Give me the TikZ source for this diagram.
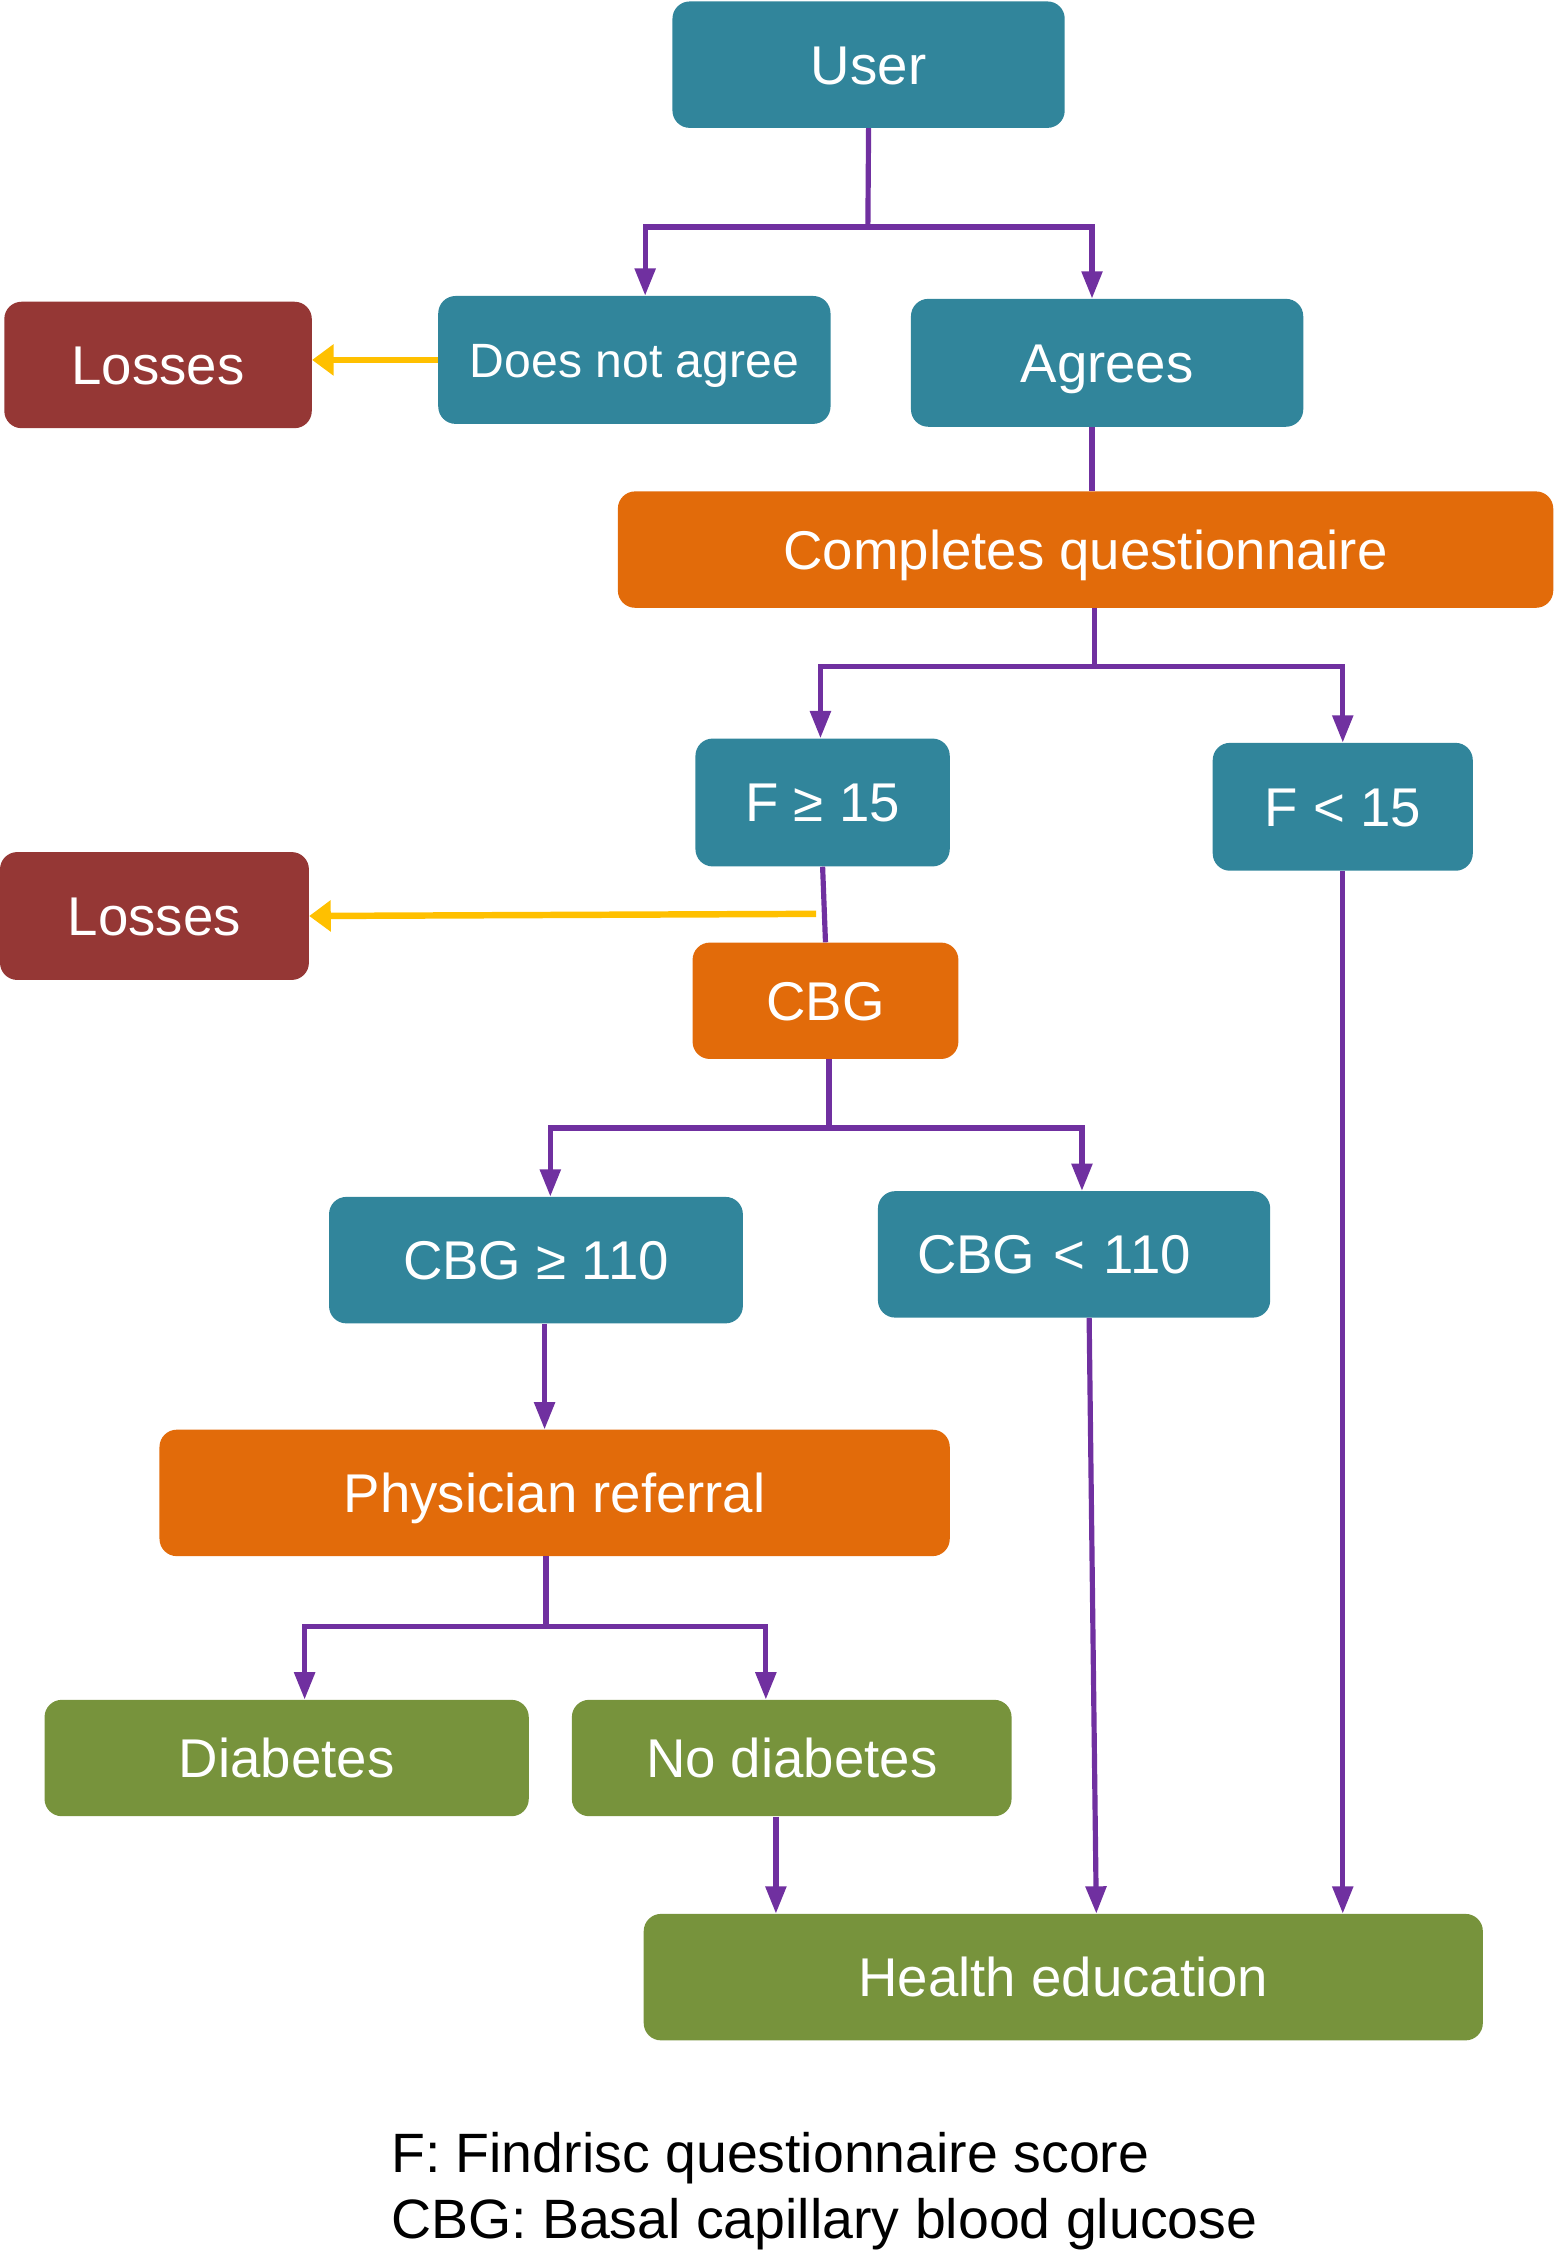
\documentclass[tikz,border=0pt]{standalone}
\usepackage{fontspec}
\setmainfont{Liberation Sans}
\usetikzlibrary{arrows.meta,calc}
\definecolor{teal}{RGB}{49,133,155}
\definecolor{orng}{RGB}{226,107,10}
\definecolor{brick}{RGB}{149,55,53}
\definecolor{olive}{RGB}{119,147,60}
\definecolor{purp}{RGB}{112,48,160}
\definecolor{yell}{RGB}{255,192,0}
\tikzset{
  box/.style={rounded corners=12pt, inner sep=0pt, text=white, font=\fontsize{38}{44}\selectfont, align=center, text height=27pt, text depth=0pt},
  tbox/.style={box, fill=teal},
  obox/.style={box, fill=orng},
  rbox/.style={box, fill=brick},
  gbox/.style={box, fill=olive},
  pline/.style={draw=purp, line width=3.6pt},
  parr/.style={pline, -{Triangle[length=19pt,width=14pt]}},
  yarr/.style={draw=yell, line width=4.5pt, -{Triangle[length=15pt,width=21pt]}},
}
\begin{document}
\begin{tikzpicture}[x=1pt,y=-1pt]
\useasboundingbox (0,0) rectangle (1082,1568);
% nodes
\node[tbox, minimum width=273pt, minimum height=88pt] (user) at (604.5,45) {User};
\node[tbox, minimum width=273pt, minimum height=89pt, font=\fontsize{33.5}{40}\selectfont, text height=24pt] (dna) at (441.5,250.5) {Does not agree};
\node[tbox, minimum width=273pt, minimum height=89pt] (agr) at (770.5,252.5) {Agrees};
\node[rbox, minimum width=214pt, minimum height=88pt] (loss1) at (110,254) {Losses};
\node[obox, minimum width=651pt, minimum height=81pt] (cq) at (755.5,382.5) {Completes questionnaire};
\node[tbox, minimum width=177pt, minimum height=89pt] (f15) at (572.5,558.5) {F ≥ 15};
\node[tbox, minimum width=181pt, minimum height=89pt] (fl15) at (934.5,561.5) {F < 15};
\node[rbox, minimum width=215pt, minimum height=89pt] (loss2) at (107.5,637.5) {Losses};
\node[obox, minimum width=185pt, minimum height=81pt] (cbg) at (574.5,696.5) {CBG};
\node[tbox, minimum width=288pt, minimum height=88pt] (cbgge) at (373,877) {CBG ≥ 110};
\node[tbox, minimum width=273pt, minimum height=88pt, text width=273pt] (cbglt) at (747.5,873) {\hspace*{-28pt}CBG < 110};
\node[obox, minimum width=550pt, minimum height=88pt] (phys) at (386,1039) {Physician referral};
\node[gbox, minimum width=337pt, minimum height=81pt] (diab) at (199.5,1223.5) {Diabetes};
\node[gbox, minimum width=306pt, minimum height=81pt] (nodiab) at (551,1223.5) {No diabetes};
\node[gbox, minimum width=584pt, minimum height=88pt] (health) at (740,1376) {Health education};
\node[anchor=west, align=left, inner sep=0pt, font=\fontsize{38.6}{46}\selectfont] (legend) at (272,1525)
  {F: Findrisc questionnaire score\\CBG: Basal capillary blood glucose};
% junctions
\coordinate (j1) at (604,158);
\coordinate (j2) at (762,464);
\coordinate (j3) at (577,785);
\coordinate (j4) at (380,1132);
\coordinate (y2) at (568,636);
% connectors
\draw[pline] (user.south) -- (j1);
\draw[parr] (j1) -| ([xshift=7.5pt]dna.north);
\draw[parr] (j1) -| ([xshift=-10.5pt]agr.north);
\draw[yarr] (dna.west) -- (dna.west -| loss1.east);
\draw[pline] ([xshift=-10.5pt]agr.south) -- ([xshift=-10.5pt]agr.south |- cq.north);
\draw[pline] (j2 |- cq.south) -- (j2);
\draw[parr] (j2) -| ([xshift=-1.5pt]f15.north);
\draw[parr] (j2) -| (fl15.north);
\draw[pline] (f15.south) -- (cbg.north);
\draw[yarr] (y2) -- (loss2.east);
\draw[parr] (fl15.south) -- (fl15.south |- health.north);
\draw[pline] (j3 |- cbg.south) -- (j3);
\draw[parr] (j3) -| ([xshift=10pt]cbgge.north);
\draw[parr] (j3) -| ([xshift=5.5pt]cbglt.north);
\draw[parr] ([xshift=6pt]cbgge.south) -- ([xshift=6pt]cbgge.south |- phys.north);
\draw[parr] ([xshift=10.5pt]cbglt.south) -- ([xshift=23pt]health.north);
\draw[pline] (j4 |- phys.south) -- (j4);
\draw[parr] (j4) -| ([xshift=12.5pt]diab.north);
\draw[parr] (j4) -| ([xshift=-18pt]nodiab.north);
\draw[parr] ([xshift=-11pt]nodiab.south) -- ([xshift=-11pt]nodiab.south |- health.north);
\end{tikzpicture}
\end{document}
